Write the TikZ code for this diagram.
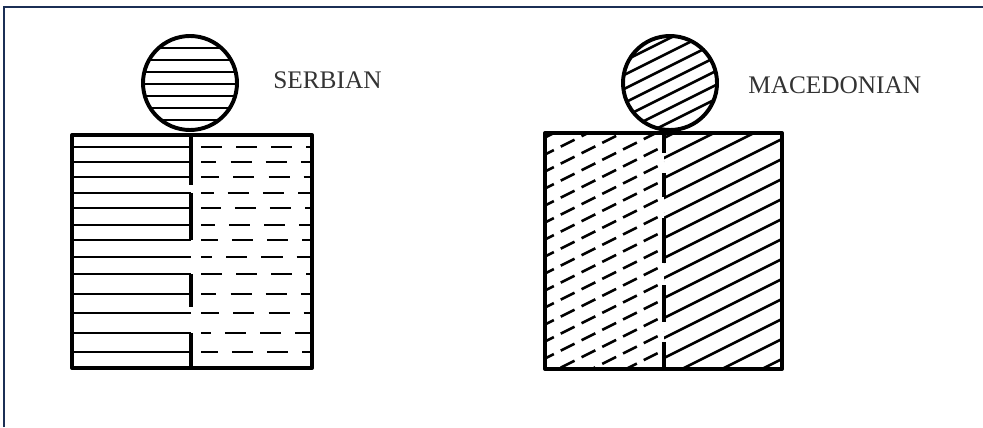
\documentclass[tikz,border=0pt]{standalone}
\usepackage{fontspec}
\setmainfont{Liberation Serif}
\definecolor{frameblue}{HTML}{1B2F55}

\begin{document}
\begin{tikzpicture}[
    x=0.025cm, y=-0.025cm,
    outline/.style={line width=2.8pt, line join=round, line cap=round},
    hatch/.style={line width=1.8pt},
    rowdash/.style={hatch, dash pattern=on 15pt off 10pt},
    slantdash/.style={hatch, dash pattern=on 11pt off 5.5pt},
    divider/.style={line width=2.2pt},
    frameline/.style={line width=2pt, draw=frameblue},
    flag/.style={font=\fontsize{18}{21}\selectfont, text=black!80,
                 anchor=west, inner sep=0pt}
]
\useasboundingbox (0,0) rectangle (983,427);

% Frame
\draw[frameline] (4,427) -- (4,7) -- (983,7);

% Serbian ball
\begin{scope}
  \clip (190,83) circle (47);
  \foreach \y in {48,60,...,120}
    \draw[hatch] (140,\y) -- (240,\y);
\end{scope}
\draw[outline] (190,83) circle (47);

% Serbian block: solid rows left, dashed rows right
\begin{scope}
  \clip (72,135) rectangle (191,368);
  \foreach \y in {147,162,177,193,208,225,240,257,274,294,313,333,352}
    \draw[hatch] (72,\y) -- (191,\y);
\end{scope}
\begin{scope}
  \clip (191,135) rectangle (312,368);
  \foreach \y/\p in {147/0pt,162/4pt,177/2pt,193/6pt,208/1pt,225/5pt,240/3pt,
                     257/7pt,274/0pt,294/4pt,313/2pt,333/8pt,352/3pt}
    \draw[rowdash, dash phase=\p] (201,\y) -- (312,\y);
\end{scope}
\draw[divider] (191,135) -- (191,185) (191,193) -- (191,240)
               (191,274) -- (191,307) (191,333) -- (191,368);
\draw[outline] (72,135) rectangle (312,368);

\node[flag] (serbian) at (273,80) {SERBIAN};

% Macedonian ball
\begin{scope}
  \clip (670,83) circle (47);
  \foreach \c in {40,54,...,250}
    \draw[hatch] (610,\c) -- (730,\c-60);
\end{scope}
\draw[outline] (670,83) circle (47);

% Macedonian block: dashed slants left, solid slants right
\begin{scope}
  \clip (545,133) rectangle (664,369);
  \foreach \c in {140,157,...,520}
    \draw[slantdash] (540,\c) -- (670,\c-65);
\end{scope}
\begin{scope}
  \clip (664,133) rectangle (782,369);
  \foreach \c in {140,160,...,560}
    \draw[hatch] (660,\c) -- (790,\c-65);
\end{scope}
\draw[divider] (664,133) -- (664,153) (664,173) -- (664,197)
               (664,218) -- (664,263) (664,285) -- (664,322)
               (664,342) -- (664,369);
\draw[outline] (545,133) rectangle (782,369);

\node[flag] (macedonian) at (748,85) {MACEDONIAN};

\end{tikzpicture}
\end{document}
